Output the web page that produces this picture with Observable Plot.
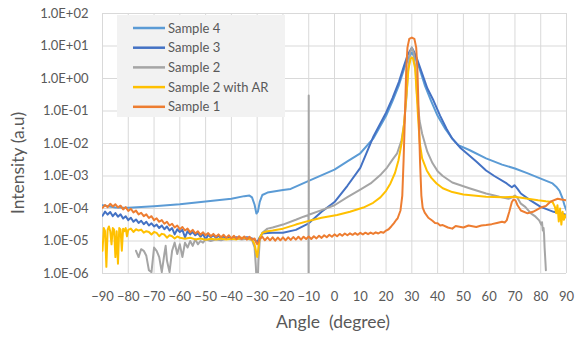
<!DOCTYPE html>
<html>
<head>
<meta charset="utf-8">
<script src="https://cdn.jsdelivr.net/npm/d3@7"></script>
<script src="https://cdn.jsdelivr.net/npm/@observablehq/plot@0.6"></script>
<style>
  body { margin: 0; background: #fff; }
  #chart svg { display: block; }
</style>
</head>
<body>
<div id="chart"></div>
<script>
// ---- Tick labels / categories ----
const xTicks = [-90, -80, -70, -60, -50, -40, -30, -20, -10, 0, 10, 20, 30, 40, 50, 60, 70, 80, 90];
const yTicks = [1e-6, 1e-5, 1e-4, 1e-3, 1e-2, 1e-1, 1e0, 1e1, 1e2];
const seriesNames = ["Sample 4", "Sample 3", "Sample 2", "Sample 2 with AR", "Sample 1"];
const seriesColors = ["#5B9BD5", "#4472C4", "#A5A5A5", "#FFC000", "#ED7D31"];
const xTitle = "Angle  (degree)";
const yTitle = "Intensity (a.u)";

// ---- Series: [angle (degree), intensity (a.u)] ----
const sample4 = [[-90,1.25e-4],[-85,1.07e-4],[-80,1.05e-4],[-70,1.17e-4],[-60,1.35e-4],[-50,1.65e-4],[-40,2.0e-4],[-35,2.4e-4],[-33,2.5e-4],[-32,2.2e-4],[-31,1.3e-4],[-30.3,7.0e-5],[-29.7,8.0e-5],[-29,1.6e-4],[-28,2.6e-4],[-26,3.1e-4],[-20,3.7e-4],[-17,4.0e-4],[-10,7.1e-4],[0,1.58e-3],[5,2.8e-3],[10,5.0e-3],[15,1.41e-2],[20,7.1e-2],[22.5,0.2],[25,0.63],[27,2.0],[28.5,4.0],[30,6.3],[31.5,4.0],[33,2.0],[35,0.63],[37.5,0.2],[40,7.1e-2],[43,2.8e-2],[45.7,1.41e-2],[48,8.9e-3],[52.3,6.3e-3],[58.8,3.5e-3],[65,2.24e-3],[70,1.7e-3],[75,1.2e-3],[80,8.3e-4],[84.6,5.9e-4],[86,4.7e-4],[87.3,3.5e-4],[88.5,2.0e-4],[89.3,1.2e-4],[90,8.7e-5]];

const sample3 = [[-90,6.0e-5],[-89,8.0e-5],[-88,6.5e-5],[-87,7.8e-5],[-86,5.8e-5],[-85,7.2e-5],[-84,5.6e-5],[-83,6.6e-5],[-82,4.9e-5],[-81,5.8e-5],[-80,4.4e-5],[-79,5.2e-5],[-78,3.9e-5],[-77,4.6e-5],[-76,3.6e-5],[-75,4.2e-5],[-74,3.3e-5],[-73,3.9e-5],[-72,3.0e-5],[-71,3.5e-5],[-70,2.8e-5],[-69,3.2e-5],[-68,2.5e-5],[-67,3.0e-5],[-66,2.3e-5],[-65,2.8e-5],[-64,2.1e-5],[-63,2.5e-5],[-62,1.6e-5],[-61,2.3e-5],[-60,1.9e-5],[-59,2.2e-5],[-58,1.3e-5],[-57,2.0e-5],[-56,1.6e-5],[-55,1.9e-5],[-54,1.5e-5],[-53,1.75e-5],[-52,1.35e-5],[-51,1.65e-5],[-50,1.1e-5],[-49,1.55e-5],[-48,1.3e-5],[-47,1.5e-5],[-46,1.25e-5],[-45,1.45e-5],[-44,1.2e-5],[-43,1.4e-5],[-42,1.2e-5],[-41,1.35e-5],[-40,1.15e-5],[-38,1.3e-5],[-36,1.15e-5],[-34,1.3e-5],[-32,1.2e-5],[-31,1.1e-5],[-30,0.9e-5],[-29,1.3e-5],[-28,1.7e-5],[-26,1.75e-5],[-24,1.78e-5],[-20,1.8e-5],[-15,2.2e-5],[-10,3.5e-5],[-5,7.9e-5],[0,1.58e-4],[5,5.0e-4],[10,1.78e-3],[15,1.58e-2],[20,8.9e-2],[22.5,0.25],[25,0.79],[27,2.5],[28.5,5.6],[30,8.9],[31,6.3],[32,4.0],[34,1.41],[36,0.5],[38.4,0.21],[41,7.1e-2],[43.5,2.8e-2],[45.7,1.41e-2],[49,7.1e-3],[52.3,4.3e-3],[55,2.8e-3],[58.8,1.48e-3],[62,1.0e-3],[66.8,5.9e-4],[68.8,4.5e-4],[69.8,5.2e-4],[71,4.0e-4],[72.3,2.9e-4],[76,1.78e-4],[80,1.12e-4],[85,7.9e-5],[88,7.0e-5],[90,6.3e-5]];

const sample2 = [[-77,5.0e-6],[-76,3.2e-6],[-75,5.6e-6],[-74,5.0e-6],[-73,3.5e-6],[-72,1.26e-6],[-71,1.1e-6],[-70,6.3e-6],[-69,5.0e-6],[-68,3.2e-6],[-67,1.1e-6],[-66,4.0e-6],[-65.5,7.1e-6],[-65,2.5e-6],[-64,1.1e-6],[-63,5.0e-6],[-62,8.9e-6],[-61,4.0e-6],[-60,7.9e-6],[-59,3.2e-6],[-58,8.9e-6],[-57,6.3e-6],[-56,1.0e-5],[-55,7.1e-6],[-54,1.12e-5],[-53,7.9e-6],[-52,1.0e-5],[-51,8.9e-6],[-50,1.12e-5],[-48,1.0e-5],[-46,1.12e-5],[-44,1.05e-5],[-42,1.17e-5],[-40,1.12e-5],[-38,1.2e-5],[-36,1.12e-5],[-34,1.17e-5],[-32,1.07e-5],[-31,6.3e-6],[-30.5,1.6e-6],[-30.2,5e-7],[-29.8,5e-7],[-29.5,2.5e-6],[-29,1.0e-5],[-28,1.78e-5],[-26,2.4e-5],[-24,2.6e-5],[-20,3.2e-5],[-15,4.5e-5],[-12,5.6e-5],[-10.1,6.3e-5],[-10.03,1e-7],[-10,0.3],[-9.97,6.4e-5],[-5,8.9e-5],[0,1.26e-4],[5,2.24e-4],[10,3.8e-4],[14,5.9e-4],[18,1.12e-3],[20.4,1.82e-3],[22.5,3.2e-3],[24.3,5.0e-3],[26,1.26e-2],[27,4.0e-2],[28,0.32],[28.5,1.58],[29.3,6.3],[30,8.9],[30.7,6.3],[31.5,1.58],[32,0.32],[33,5.0e-2],[34,2.0e-2],[36,5.6e-3],[38,2.5e-3],[40,1.41e-3],[42,1.0e-3],[45.7,6.3e-4],[52.3,4.2e-4],[58.8,2.9e-4],[64,2.3e-4],[67.5,2.0e-4],[69,2.2e-4],[70,2.5e-4],[71,2.1e-4],[72.3,1.41e-4],[74,1.12e-4],[76.2,7.1e-5],[78,5.6e-5],[79.4,4.3e-5],[80.2,3.2e-5],[80.5,3.8e-5],[80.8,2.1e-5],[81.1,2.5e-5],[81.3,1.6e-5],[81.5,6.3e-6],[81.8,2.5e-6],[82,1.26e-6]];

const sample2AR = [[-90,5.0e-6],[-89.5,2.5e-5],[-89,2.0e-5],[-88.5,1.6e-6],[-88,2.24e-5],[-87.5,2.8e-5],[-87,2.0e-5],[-86.5,7.9e-6],[-86,2.5e-5],[-85.5,2.24e-5],[-85,3.2e-6],[-84.5,2.0e-5],[-84,2.0e-6],[-83.5,2.5e-5],[-83,2.24e-5],[-82.5,5.0e-6],[-82,2.4e-5],[-81.5,2.0e-5],[-81,2.5e-5],[-80.5,1.4e-5],[-80,2.2e-5],[-79,2.4e-5],[-78,1.9e-5],[-77,2.3e-5],[-76,2.1e-5],[-75,2.24e-5],[-74,1.8e-5],[-73,2.0e-5],[-72,1.9e-5],[-71,1.58e-5],[-70,1.9e-5],[-69,1.78e-5],[-68,1.4e-5],[-67,1.66e-5],[-66,1.58e-5],[-65,1.26e-5],[-64,1.5e-5],[-63,1.4e-5],[-62,1.2e-5],[-61,1.38e-5],[-60,1.26e-5],[-58,1.17e-5],[-56,1.26e-5],[-54,1.12e-5],[-52,1.2e-5],[-50,1.1e-5],[-48,1.17e-5],[-46,1.12e-5],[-44,1.2e-5],[-42,1.12e-5],[-40,1.17e-5],[-38,1.12e-5],[-36,1.26e-5],[-34,1.2e-5],[-32,1.12e-5],[-31,7.9e-6],[-30.5,5.0e-6],[-30,3.2e-6],[-29.5,6.3e-6],[-29,1.26e-5],[-28,1.78e-5],[-26,2.0e-5],[-24,2.1e-5],[-20,2.4e-5],[-15,3.2e-5],[-9.3,4.3e-5],[-5,5.2e-5],[1,6.3e-5],[6,7.9e-5],[11.2,1.07e-4],[15,1.5e-4],[17.8,2.2e-4],[20,3.5e-4],[21.7,5.9e-4],[23.5,1.26e-3],[24.8,3.0e-3],[26,1.0e-2],[27,4.0e-2],[28,0.4],[28.7,2.0],[29.5,4.0],[30,4.5],[30.5,4.0],[31.3,2.0],[32,0.25],[32.5,5.0e-2],[33.1,1.0e-2],[34,3.5e-3],[35.8,1.48e-3],[37.5,8.9e-4],[39.6,5.9e-4],[42,4.2e-4],[45.7,3.2e-4],[50,2.7e-4],[58.8,2.3e-4],[65,2.2e-4],[70,2.3e-4],[75,2.0e-4],[79,1.78e-4],[82,1.66e-4],[84.6,1.58e-4],[85.5,1.12e-4],[86,7.1e-5],[86.5,1.26e-4],[87,4.0e-5],[87.5,1.0e-4],[88,3.2e-5],[88.5,7.9e-5],[89,4.5e-5],[89.5,6.3e-5],[90,5.2e-5]];

const sample1 = [[-90,10.5e-5],[-89,12.8e-5],[-88,11.0e-5],[-87,14.0e-5],[-86,11.5e-5],[-85,13.5e-5],[-84,10.8e-5],[-83,12.2e-5],[-82,9.4e-5],[-81,11.0e-5],[-80,8.4e-5],[-79,9.8e-5],[-78,7.6e-5],[-77,8.6e-5],[-76,6.6e-5],[-75,7.4e-5],[-74,5.8e-5],[-73,6.6e-5],[-72,5.1e-5],[-71,5.8e-5],[-70,4.4e-5],[-69,5.0e-5],[-68,3.9e-5],[-67,4.4e-5],[-66,3.4e-5],[-65,3.9e-5],[-64,3.0e-5],[-63,3.4e-5],[-62,2.6e-5],[-61,3.0e-5],[-60,2.3e-5],[-59,2.7e-5],[-58,2.1e-5],[-57,2.4e-5],[-56,1.85e-5],[-55,2.2e-5],[-54,1.7e-5],[-53,2.0e-5],[-52,1.55e-5],[-51,1.85e-5],[-50,1.5e-5],[-49,1.75e-5],[-48,1.4e-5],[-47,1.65e-5],[-46,1.35e-5],[-45,1.6e-5],[-44,1.3e-5],[-43,1.55e-5],[-42,1.25e-5],[-41,1.5e-5],[-40,1.2e-5],[-39,1.45e-5],[-38,1.15e-5],[-37,1.4e-5],[-36,1.15e-5],[-35,1.38e-5],[-34,1.1e-5],[-33,1.35e-5],[-32,1.1e-5],[-31,1.2e-5],[-30.5,0.95e-5],[-30,0.8e-5],[-29.5,0.95e-5],[-29,1.15e-5],[-28,1.35e-5],[-27,1.05e-5],[-26,1.3e-5],[-25,1.05e-5],[-24,1.3e-5],[-23,1.02e-5],[-22,1.28e-5],[-21,1.05e-5],[-20,1.3e-5],[-19,1.05e-5],[-18,1.3e-5],[-17,1.08e-5],[-16,1.32e-5],[-15,1.1e-5],[-14,1.35e-5],[-13,1.1e-5],[-12,1.35e-5],[-11,1.15e-5],[-10,1.38e-5],[-9,1.15e-5],[-8,1.4e-5],[-7,1.2e-5],[-6,1.45e-5],[-5,1.25e-5],[-4,1.5e-5],[-3,1.3e-5],[-2,1.55e-5],[-1,1.35e-5],[0,1.6e-5],[1,1.4e-5],[2,1.65e-5],[3,1.45e-5],[4,1.7e-5],[5,1.5e-5],[6,1.72e-5],[7,1.55e-5],[8,1.75e-5],[9,1.55e-5],[10,1.78e-5],[11,1.6e-5],[12,1.8e-5],[13,1.62e-5],[14,1.82e-5],[15,1.65e-5],[16,1.85e-5],[17,1.7e-5],[18,1.9e-5],[19,1.8e-5],[20,2.1e-5],[21,2.3e-5],[22,2.8e-5],[23,3.5e-5],[24,4.5e-5],[24.5,5.0e-5],[25.6,8.7e-5],[26.3,2.5e-4],[26.8,3.0e-3],[27.3,6.3e-2],[27.8,1.58],[28.3,8.9],[29,16.6],[30,18.2],[31,16.6],[31.7,8.9],[32.2,1.58],[32.7,6.3e-2],[33.2,2.5e-3],[33.7,2.5e-4],[34.2,1.07e-4],[35,7.5e-5],[36.4,5.2e-5],[38,4.2e-5],[39,3.6e-5],[40,3.5e-5],[41,3.0e-5],[42,3.1e-5],[44,2.6e-5],[45.7,2.4e-5],[47,2.9e-5],[50,2.6e-5],[52,3.0e-5],[55,2.7e-5],[57,3.0e-5],[58.8,3.1e-5],[61,3.3e-5],[63,3.6e-5],[65,3.9e-5],[66,3.7e-5],[66.8,4.3e-5],[67.8,7.9e-5],[68.8,1.58e-4],[69.5,1.9e-4],[70.2,1.78e-4],[71,1.26e-4],[72.3,8.7e-5],[74.9,7.1e-5],[77,7.9e-5],[80,1.07e-4],[82,1.2e-4],[84,1.66e-4],[86.6,2.0e-4],[88,1.9e-4],[90,1.78e-4]];

// drawing order: first drawn at the bottom
const seriesData = [sample4, sample3, sample2, sample2AR, sample1];

const fmt = d => {
  const e = Math.round(Math.log10(d));
  return "1.0E" + (e < 0 ? "-" : "+") + String(Math.abs(e)).padStart(2, "0");
};

const textColor = "#595959";
const gridColor = "#d9d9d9";

const lineMarks = seriesData.map((data, i) =>
  Plot.line(data, {
    x: d => d[0],
    y: d => d[1],
    stroke: seriesColors[i],
    strokeWidth: 2,
    strokeLinejoin: "round",
    clip: true
  })
);

const chart = Plot.plot({
  width: 577,
  height: 337,
  marginLeft: 102,
  marginRight: 11,
  marginTop: 13,
  marginBottom: 64,
  style: { fontFamily: "Lato, 'Open Sans', sans-serif", fontSize: "13px", color: textColor, background: "#fff" },
  x: { domain: [-90, 90], label: null },
  y: { type: "log", domain: [1e-6, 1e2], label: null },
  marks: [
    Plot.gridX(xTicks, { stroke: gridColor, strokeOpacity: 1, strokeWidth: 1 }),
    Plot.gridY(yTicks, { stroke: gridColor, strokeOpacity: 1, strokeWidth: 1 }),
    Plot.axisX(xTicks, { tickSize: 0, tickPadding: 18, label: null, fill: textColor }),
    Plot.axisY(yTicks, { tickSize: 0, tickPadding: 14, tickFormat: fmt, label: null, fill: textColor }),
    ...lineMarks
  ]
});

document.getElementById("chart").appendChild(chart);

// ---- Legend (inside plot area, Excel style) ----
const svg = d3.select(chart);
const leg = svg.append("g").attr("class", "legend").attr("text-anchor", "start");
leg.append("rect")
  .attr("x", 117).attr("y", 15).attr("width", 168).attr("height", 102)
  .attr("fill", "#f2f2f2");
seriesNames.forEach((name, i) => {
  const y = 28 + i * 19.7;
  leg.append("line")
    .attr("x1", 133).attr("x2", 165).attr("y1", y).attr("y2", y)
    .attr("stroke", seriesColors[i]).attr("stroke-width", 2.5);
  leg.append("text")
    .attr("x", 168).attr("y", y).attr("dy", "0.35em")
    .attr("text-anchor", "start")
    .attr("fill", textColor)
    .style("font", "13px Lato, 'Open Sans', sans-serif")
    .text(name);
});

// ---- Axis titles ----
svg.append("text")
  .attr("x", 333).attr("y", 322).attr("dy", "0.35em")
  .attr("text-anchor", "middle")
  .attr("fill", textColor)
  .style("font", "17.5px Lato, 'Open Sans', sans-serif")
  .style("white-space", "pre")
  .text(xTitle);
svg.append("text")
  .attr("transform", "translate(18,163) rotate(-90)")
  .attr("dy", "0.35em")
  .attr("text-anchor", "middle")
  .attr("fill", textColor)
  .style("font", "17.5px Lato, 'Open Sans', sans-serif")
  .text(yTitle);
</script>
</body>
</html>
